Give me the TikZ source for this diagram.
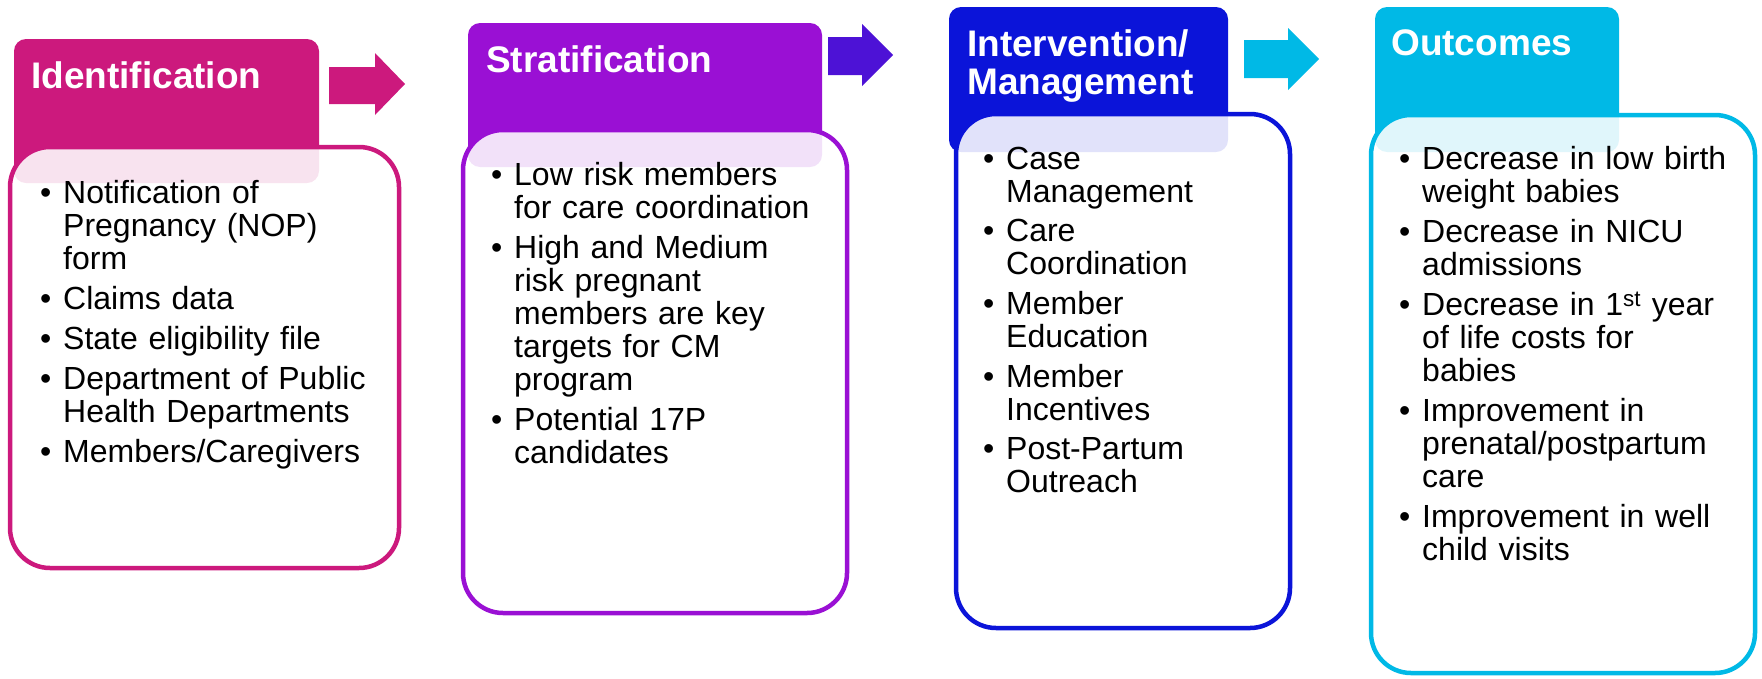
\documentclass[tikz,border=0pt]{standalone}
\usepackage{fontspec}
\setmainfont{Liberation Sans}
\definecolor{cA}{HTML}{CC197D}
\definecolor{cB}{HTML}{9A10D4}
\definecolor{cAB}{HTML}{4D12D6}
\definecolor{cC}{HTML}{0B14D9}
\definecolor{cD}{HTML}{00B9E6}
\newcommand{\bulf}[1]{\noindent\makebox[23pt][l]{\textbullet}\parbox[t]{360pt}{\raggedright #1\strut}\par\prevdepth=\dp\strutbox}
\newcommand{\bul}[1]{\par\noindent\makebox[23pt][l]{\textbullet}\parbox[t]{360pt}{\raggedright #1\strut}\par\prevdepth=\dp\strutbox}
\begin{document}
\begin{tikzpicture}[x=1pt,y=-1pt,
  hdr/.style={rounded corners=12pt, inner sep=0pt, outer sep=0pt, anchor=north west, draw=none},
  bodybox/.style={rounded corners=40pt, line width=4.5pt, fill=white, fill opacity=0.88, draw opacity=1, inner sep=0pt, outer sep=0pt, anchor=north west},
  title/.style={anchor=base west, inner sep=0pt, text=white, font=\fontsize{37}{38}\selectfont\bfseries, align=left},
  txt/.style={anchor=base west, inner sep=0pt, text width=400pt, align=left, font=\fontsize{32}{33}\selectfont},
  ]
\useasboundingbox (0,0) rectangle (1762,678);
% headers
\node[hdr, fill=cA, minimum width=305pt, minimum height=144pt] (h1) at (14,39) {};
\node[hdr, fill=cB, minimum width=354pt, minimum height=144pt] (h2) at (468,23) {};
\node[hdr, fill=cC, minimum width=279pt, minimum height=145pt] (h3) at (949,7) {};
\node[hdr, fill=cD, minimum width=244pt, minimum height=145pt] (h4) at (1375,7) {};
% arrows
\fill[cA] (329,67) -- (375,67) -- (375,53) -- (405,84) -- (375,115) -- (375,104) -- (329,104) -- cycle;
\fill[cAB] (828,37) -- (862,37) -- (862,24) -- (893,55) -- (862,86) -- (862,75) -- (828,75) -- cycle;
\fill[cD] (1244,40) -- (1288,40) -- (1288,28) -- (1319,59) -- (1288,90) -- (1288,78) -- (1244,78) -- cycle;
% bodies
\node[bodybox, draw=cA, minimum width=389pt, minimum height=421pt] (b1) at (10,147) {};
\node[bodybox, draw=cB, minimum width=384pt, minimum height=483pt] (b2) at (463,130) {};
\node[bodybox, draw=cC, minimum width=334pt, minimum height=514pt] (b3) at (956,114) {};
\node[bodybox, draw=cD, minimum width=384pt, minimum height=558pt] (b4) at (1371,115) {};
% titles
\node[title] (t1) at (31,88) {Identification};
\node[title] (t2) at (486,72) {Stratification};
\node[title] (t3) at (967,94) {Intervention/\\Management};
\node[title] (t4) at (1391,55) {Outcomes};
% texts
\node[txt] (x1) at (40,203) {\setlength{\parskip}{6pt}%
\bulf{Notification of\\Pregnancy (NOP)\\form}
\bul{Claims data}
\bul{State eligibility file}
\bul{Department of Public\\Health Departments}
\bul{Members/Caregivers}};
\node[txt] (x2) at (491,185) {\setlength{\parskip}{6pt}%
\bulf{Low risk members\\for care coordination}
\bul{High and Medium\\risk pregnant\\members are key\\targets for CM\\program}
\bul{Potential 17P\\candidates}};
\node[txt] (x3) at (983,169) {\setlength{\parskip}{6pt}%
\bulf{Case\\Management}
\bul{Care\\Coordination}
\bul{Member\\Education}
\bul{Member\\Incentives}
\bul{Post-Partum\\Outreach}};
\node[txt] (x4) at (1399,169) {\setlength{\parskip}{6pt}%
\bulf{Decrease in low birth\\weight babies}
\bul{Decrease in NICU\\admissions}
\bul{Decrease in 1\textsuperscript{st} year\\of life costs for\\babies}
\bul{Improvement in\\prenatal/postpartum\\care}
\bul{Improvement in well\\child visits}};
\end{tikzpicture}
\end{document}
